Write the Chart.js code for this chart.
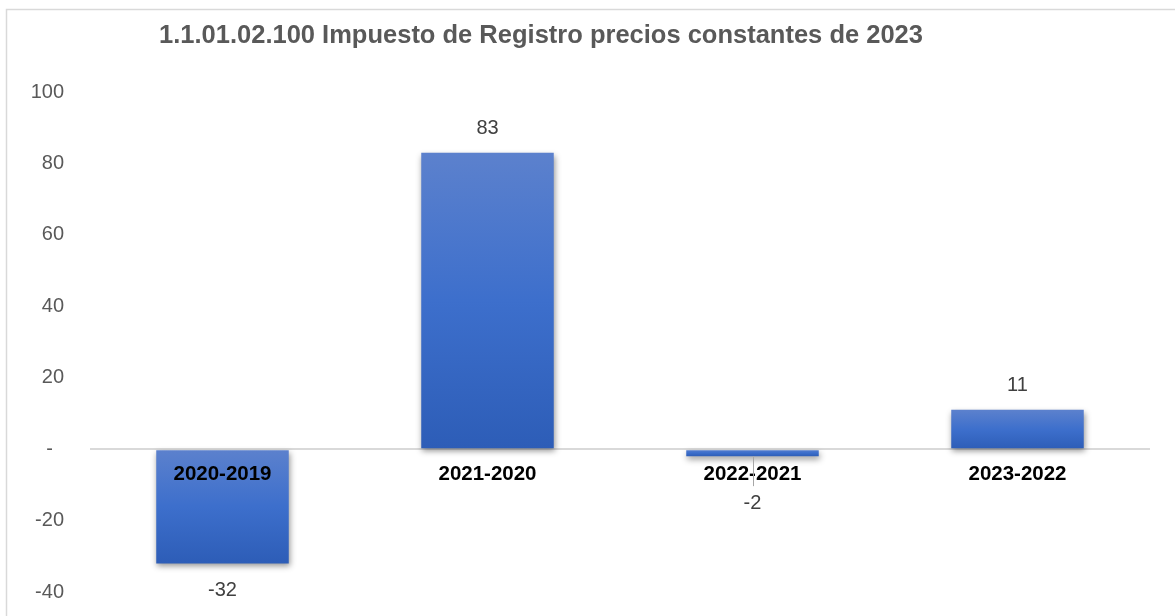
<!DOCTYPE html>
<html>
<head>
<meta charset="utf-8">
<script src="https://cdn.jsdelivr.net/npm/chart.js@4"></script>
<style>
  html, body { margin: 0; padding: 0; background: #fff; }
  #wrap { position: relative; width: 1175px; height: 616px; }
</style>
</head>
<body>
<div id="wrap"><canvas id="c"></canvas></div>
<script>
const chartTitle = '1.1.01.02.100 Impuesto de Registro precios constantes de 2023';
const categories = ['2020-2019', '2021-2020', '2022-2021', '2023-2022'];
const values = [-32, 83, -2, 11];
const yMin = -40, yMax = 100, yStep = 20;

const FONT = '"Liberation Sans", Arial, sans-serif';

const framePlugin = {
  id: 'frame',
  beforeDraw(chart) {
    const c = chart.ctx;
    c.save();
    c.strokeStyle = '#d9d9d9';
    c.lineWidth = 1.5;
    c.beginPath();
    c.moveTo(6.5, 1000);
    c.lineTo(6.5, 9.5);
    c.lineTo(1200, 9.5);
    c.stroke();
    c.restore();
  }
};

const shadowPlugin = {
  id: 'barShadow',
  beforeDatasetsDraw(chart) {
    const c = chart.ctx;
    c.save();
    c.shadowColor = 'rgba(0,0,0,0.42)';
    c.shadowBlur = 6;
    c.shadowOffsetX = 1;
    c.shadowOffsetY = 3;
  },
  afterDatasetsDraw(chart) {
    chart.ctx.restore();
  }
};

const labelsPlugin = {
  id: 'labels',
  afterDatasetsDraw(chart) {
    const c = chart.ctx;
    const meta = chart.getDatasetMeta(0);
    const zeroY = chart.scales.y.getPixelForValue(0);
    c.save();
    meta.data.forEach((el, i) => {
      const v = values[i];
      c.font = 'bold 20.5px ' + FONT;
      c.fillStyle = '#000000';
      c.textAlign = 'center';
      c.textBaseline = 'middle';
      c.fillText(categories[i], el.x, zeroY + 25);
      c.font = '20px ' + FONT;
      c.fillStyle = '#404040';
      let ly;
      if (v >= 0) {
        ly = el.y - 24;
      } else {
        const natural = el.y + 27;
        const pushed = zeroY + 54;
        ly = Math.max(natural, pushed);
        if (pushed > natural) {
          c.strokeStyle = '#a6a6a6';
          c.lineWidth = 1;
          c.beginPath();
          c.moveTo(Math.round(el.x) + 0.5, el.y);
          c.lineTo(Math.round(el.x) + 0.5, ly - 17);
          c.stroke();
        }
      }
      c.fillText(String(v), el.x, ly);
    });
    c.restore();
  }
};

const titlePlugin = {
  id: 'customTitle',
  afterDraw(chart) {
    const c = chart.ctx;
    c.save();
    c.font = 'bold 25.5px ' + FONT;
    c.fillStyle = '#595959';
    c.textAlign = 'center';
    c.textBaseline = 'alphabetic';
    c.fillText(chartTitle, 541, 43);
    c.restore();
  }
};

new Chart(document.getElementById('c'), {
  type: 'bar',
  data: {
    labels: categories,
    datasets: [{
      data: values,
      barPercentage: 0.5,
      categoryPercentage: 1.0,
      borderWidth: 0,
      backgroundColor: (ctx) => {
        const chart = ctx.chart;
        if (!chart.chartArea || ctx.type !== 'data') return '#3f6dc3';
        const ys = chart.scales.y;
        const v = ctx.raw;
        const top = ys.getPixelForValue(Math.max(v, 0));
        const bot = ys.getPixelForValue(Math.min(v, 0));
        const g = chart.ctx.createLinearGradient(0, top, 0, bot + 0.01);
        g.addColorStop(0, '#5c81cd');
        g.addColorStop(0.5, '#3d6fcc');
        g.addColorStop(1, '#2d5db7');
        return g;
      }
    }]
  },
  options: {
    responsive: true,
    maintainAspectRatio: false,
    animation: false,
    layout: { padding: { top: 92, right: 25, bottom: 24, left: 0 } },
    plugins: {
      legend: { display: false },
      title: { display: false },
      tooltip: { enabled: false }
    },
    scales: {
      x: { display: false },
      y: {
        min: yMin,
        max: yMax,
        afterFit(scale) {
          scale.width = 90;
          scale.paddingTop = 0;
          scale.paddingBottom = 0;
        },
        border: { display: false },
        grid: {
          drawTicks: false,
          lineWidth: 2,
          color: (ctx) => (ctx.tick && ctx.tick.value === 0) ? '#d9d9d9' : 'rgba(0,0,0,0)'
        },
        ticks: {
          stepSize: yStep,
          padding: 26,
          color: '#595959',
          font: { family: FONT, size: 20 },
          callback: (v) => v === 0 ? '-  ' : String(v)
        }
      }
    }
  },
  plugins: [framePlugin, shadowPlugin, labelsPlugin, titlePlugin]
});
</script>
</body>
</html>
